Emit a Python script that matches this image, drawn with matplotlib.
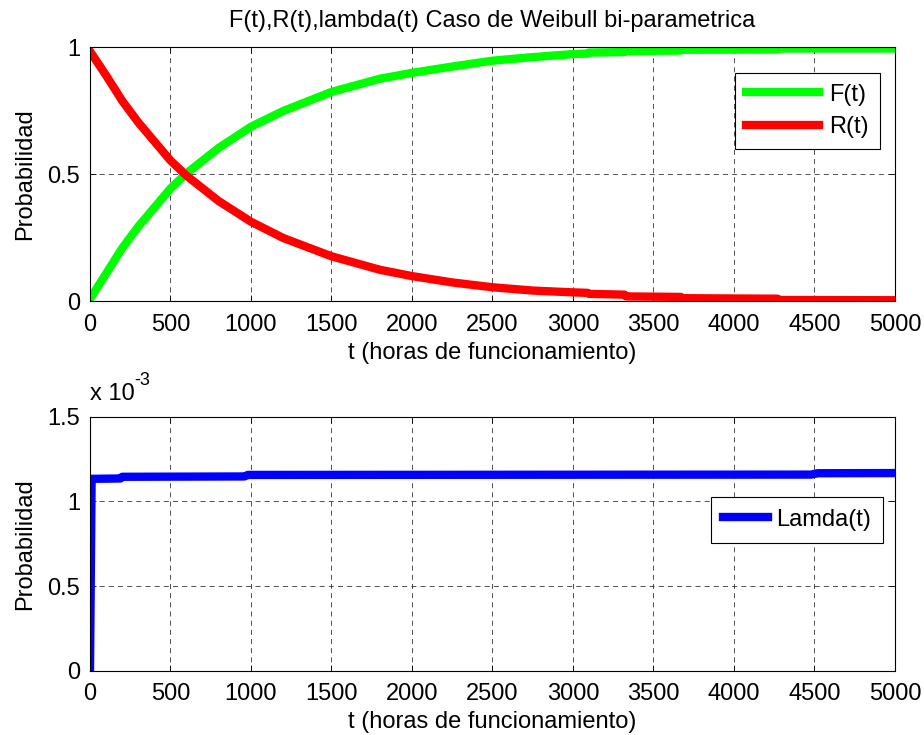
import matplotlib
matplotlib.use("Agg")
import matplotlib.pyplot as plt
from matplotlib.ticker import FuncFormatter

# Values (hours, probability)
t_fr = [0, 100, 200, 300, 400, 500, 600, 700, 800, 1000, 1200, 1500, 1800,
        2000, 2250, 2500, 2750, 3000, 3090, 3100, 3320, 3330, 3670, 3680,
        4270, 4280, 5000]
F_vals = [0.01, 0.11, 0.21, 0.295, 0.37, 0.445, 0.505, 0.555, 0.605, 0.688,
          0.75, 0.825, 0.877, 0.90, 0.925, 0.948, 0.962, 0.974, 0.976, 0.980,
          0.982, 0.986, 0.988, 0.991, 0.992, 0.996, 0.996]
R_vals = [0.985, 0.89, 0.79, 0.705, 0.63, 0.555, 0.495, 0.445, 0.395, 0.314,
          0.25, 0.178, 0.125, 0.100, 0.075, 0.056, 0.043, 0.036, 0.034, 0.030,
          0.027, 0.020, 0.018, 0.013, 0.011, 0.006, 0.005]

# hazard rate (1/h)
t_lam = [0, 10, 190, 200, 960, 980, 4480, 4520, 5000]
lam_vals = [0.0, 1.133e-3, 1.135e-3, 1.145e-3, 1.147e-3, 1.156e-3, 1.158e-3,
            1.166e-3, 1.167e-3]

FS = 17
plt.rcParams['font.family'] = ['Liberation Sans', 'DejaVu Sans']
plt.rcParams['font.size'] = FS
plt.rcParams['lines.scale_dashes'] = False

fig = plt.figure(figsize=(9.24, 7.35), dpi=100)
ax1 = fig.add_axes([0.0974, 0.5898, 0.8712, 0.3456])
ax2 = fig.add_axes([0.0974, 0.0875, 0.8712, 0.3456])


def style_axes(ax):
    ax.set_xlim(0, 5000)
    ax.set_xticks(range(0, 5001, 500))
    ax.grid(True, color='0.2', linestyle=(0, (3.6, 3.0)), linewidth=0.6)
    ax.tick_params(direction='in', top=True, right=True, length=4,
                   width=0.6, pad=7, labelsize=FS)
    ax.tick_params(axis='x', pad=9)
    for s in ax.spines.values():
        s.set_linewidth(0.8)
    ax.set_xlabel('t (horas de funcionamiento)', fontsize=FS, labelpad=4)
    ax.set_ylabel('Probabilidad', fontsize=FS, labelpad=8)


# top panel: F(t) and R(t)
ax1.plot(t_fr, F_vals, color=(0, 1, 0), linewidth=6, label='F(t)')
ax1.plot(t_fr, R_vals, color=(1, 0, 0), linewidth=6, label='R(t)')
ax1.set_ylim(0, 1)
ax1.set_yticks([0, 0.5, 1])
ax1.set_yticklabels(['0', '0.5', '1'])
style_axes(ax1)
ax1.set_title('F(t),R(t),lambda(t) Caso de Weibull bi-parametrica',
              fontsize=FS, pad=15)
leg1 = ax1.legend(loc='upper right', bbox_to_anchor=(0.981, 0.900),
                  fancybox=False, framealpha=1, edgecolor='black',
                  handlelength=3.1, handletextpad=0.45, labelspacing=0.45,
                  borderpad=0.45, borderaxespad=0, fontsize=FS)
leg1.get_frame().set_linewidth(0.8)

# bottom panel: lambda(t)
ax2.plot(t_lam, lam_vals, color=(0, 0, 1), linewidth=6, label='Lamda(t)')
ax2.set_ylim(0, 1.5e-3)
ax2.set_yticks([0, 0.5e-3, 1e-3, 1.5e-3])
ax2.yaxis.set_major_formatter(FuncFormatter(lambda v, p: f'{v * 1e3:g}'))
style_axes(ax2)
# MATLAB-style exponent label above the axis
base = ax2.text(0, 1.045, 'x 10', transform=ax2.transAxes,
                ha='left', va='bottom', fontsize=FS)
ax2.annotate('-3', xy=(1, 0.75), xycoords=base, ha='left', va='bottom',
             fontsize=FS - 4)
leg2 = ax2.legend(loc='upper right', bbox_to_anchor=(0.985, 0.684),
                  fancybox=False, framealpha=1, edgecolor='black',
                  handlelength=1.9, handletextpad=0.35, borderpad=0.5,
                  borderaxespad=0, fontsize=FS)
leg2.get_frame().set_linewidth(0.8)

plt.savefig('out.png', dpi=100, facecolor='white')
plt.close()
